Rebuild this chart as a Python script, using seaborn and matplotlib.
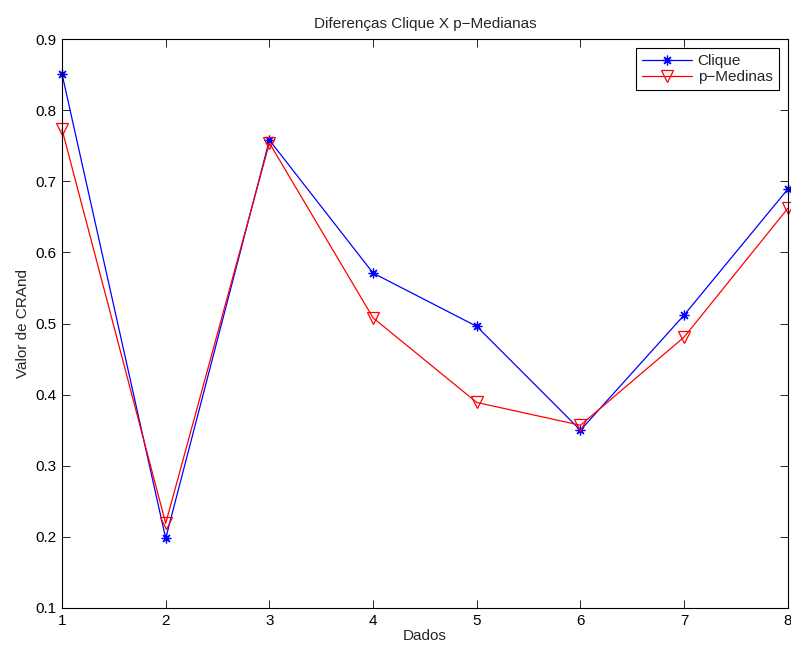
import pandas as pd
import numpy as np
import matplotlib
matplotlib.use('Agg')
import matplotlib.pyplot as plt
import seaborn as sns

# ── Data ─────────────────────────────────────────────────────
dados = [1, 2, 3, 4, 5, 6, 7, 8]
clique = [0.851, 0.198, 0.758, 0.571, 0.496, 0.350, 0.512, 0.689]
p_medinas = [0.773, 0.219, 0.754, 0.508, 0.389, 0.357, 0.481, 0.662]
y_ticks = [0.1, 0.2, 0.3, 0.4, 0.5, 0.6, 0.7, 0.8, 0.9]

# ── Style ────────────────────────────────────────────────────
sns.set_style('white')
plt.rcParams['font.family'] = ['Liberation Sans', 'DejaVu Sans']
plt.rcParams['xtick.direction'] = 'in'
plt.rcParams['ytick.direction'] = 'in'

fig = plt.figure(figsize=(7.91, 6.52), dpi=100)
ax = fig.add_axes([0.0784, 0.0675, 0.9176, 0.8725])

# MATLAB-style asterisk: 8 arms
asterisk = (8, 2, 0)

sns.lineplot(x=dados, y=clique, color='blue', marker=asterisk, markersize=7,
             markeredgecolor='blue', markeredgewidth=0.9, linewidth=0.9,
             label='Clique', ax=ax, clip_on=False)
sns.lineplot(x=dados, y=p_medinas, color='red', marker='v', markersize=9,
             markeredgecolor='red', markerfacecolor='none', markeredgewidth=0.9,
             linewidth=0.9, label='p\u2212Medinas', ax=ax, clip_on=False)

ax.set_xlim(1, 8)
ax.set_ylim(0.1, 0.9)
ax.set_xticks(dados)
ax.set_yticks(y_ticks)
ax.set_yticklabels([f'{v:.1f}' for v in y_ticks])
ax.tick_params(labelsize=11, length=6, width=0.6, top=True, right=True,
               bottom=True, left=True, colors='black', pad=4)
for s in ax.spines.values():
    s.set_visible(True)
    s.set_color('black')
    s.set_linewidth(0.8)

ax.set_xlabel('Dados', fontsize=11, labelpad=1)
ax.set_ylabel('Valor de CRAnd', fontsize=11, labelpad=4)
ax.set_title('Diferenças Clique X p\u2212Medianas', fontsize=11, pad=8)

leg = ax.legend(loc='upper right', fontsize=11, frameon=True, fancybox=False,
                edgecolor='black', framealpha=1, handlelength=3.3,
                handletextpad=0.35, borderaxespad=0.6, borderpad=0.4,
                labelspacing=0.1)
leg.get_frame().set_linewidth(0.8)
for line in leg.get_lines():
    line.set_linewidth(0.9)

plt.savefig('out.png', dpi=100)
